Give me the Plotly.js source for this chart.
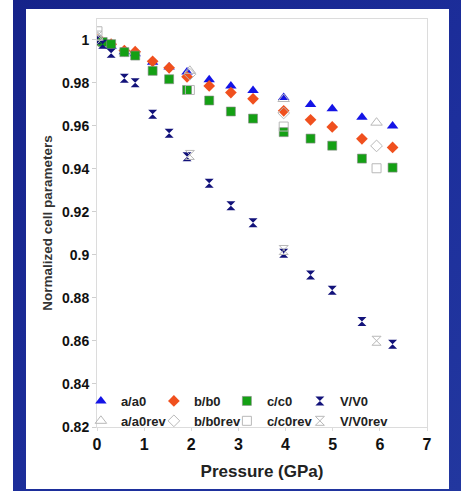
<!DOCTYPE html>
<html>
<head>
<meta charset="utf-8">
<script src="https://cdn.plot.ly/plotly-3.0.1.min.js"></script>
<style>
html,body{margin:0;padding:0;background:#fff;}
#wrap{position:relative;width:461px;height:491px;overflow:hidden;background:#fff;}
#frame{position:absolute;left:13px;top:0;width:448px;height:491px;background:linear-gradient(135deg,#16238a 0%,#1d2f9c 60%,#22379f 100%);}
#panel{position:absolute;left:26px;top:9px;width:423px;height:480px;background:#fff;}
#chart{position:absolute;left:0;top:0;width:461px;height:491px;}
</style>
</head>
<body>
<div id="wrap"><div id="frame"></div><div id="panel"></div><div id="chart"></div></div>
<script>
// Pressure (GPa), forward compression
var pressure = [0, 0.12, 0.3, 0.58, 0.81, 1.18, 1.53, 1.91, 2.38, 2.84, 3.31, 3.96, 4.53, 4.99, 5.62, 6.27];
var aA0 = [1.000, 0.9988, 0.9970, 0.9945, 0.9935, 0.9896, 0.9874, 0.9850, 0.9814, 0.9786, 0.9764, 0.9732, 0.9700, 0.9680, 0.9640, 0.9600];
var bB0 = [1.000, 0.9990, 0.9980, 0.9950, 0.9945, 0.9900, 0.9870, 0.9828, 0.9786, 0.9755, 0.9726, 0.9670, 0.9628, 0.9595, 0.9540, 0.9500];
var cC0 = [0.9995, 0.9990, 0.9980, 0.9943, 0.9927, 0.9856, 0.9817, 0.9767, 0.9718, 0.9667, 0.9634, 0.9571, 0.9541, 0.9508, 0.9448, 0.9406];
var vV0 = [1.000, 0.9980, 0.9938, 0.9822, 0.9801, 0.9654, 0.9566, 0.9457, 0.9333, 0.9229, 0.9150, 0.9008, 0.8907, 0.8836, 0.8690, 0.8585];
// Pressure (GPa), decompression (rev)
var pressureRev = [0.01, 1.97, 3.96, 5.93];
var aA0rev = [1.001, 0.9856, 0.9725, 0.9615];
var bB0rev = [1.001, 0.9840, 0.9660, 0.9507];
var cC0rev = [1.004, 0.9767, 0.9597, 0.9403];
var vV0rev = [1.002, 0.9465, 0.9023, 0.8601];
var yTicks = [0.82, 0.84, 0.86, 0.88, 0.9, 0.92, 0.94, 0.96, 0.98, 1];
var yTickText = ['0.82', '0.84', '0.86', '0.88', '0.9', '0.92', '0.94', '0.96', '0.98', '1'];

var font = 'Liberation Sans, Arial, sans-serif';
function fwd(name, y, sym, col, size, lc) {
  return {x: pressure, y: y, name: name, type: 'scatter', mode: 'markers',
    marker: {symbol: sym, color: col, size: size, line: {color: lc || col, width: lc ? 0.6 : 0}}};
}
function rev(name, y, sym, size) {
  return {x: pressureRev, y: y, name: name, type: 'scatter', mode: 'markers',
    marker: {symbol: sym, color: '#b8b8b8', size: size, line: {color: '#b8b8b8', width: 1}}};
}
var revTraces = [
  rev('a/a0rev', aA0rev, 'triangle-up-open', 10),
  rev('b/b0rev', bB0rev, 'diamond-open', 9),
  rev('c/c0rev', cC0rev, 'square-open', 9),
  rev('V/V0rev', vV0rev, 'hourglass-open', 9)
];
var fwdTraces = [
  fwd('a/a0', aA0, 'triangle-up', '#1414e6', 10),
  fwd('b/b0', bB0, 'diamond', '#f0501e', 9),
  fwd('c/c0', cC0, 'square', '#14a014', 9, '#8a8a8a'),
  fwd('V/V0', vV0, 'hourglass', '#12127a', 9)
];
var data = fwdTraces.concat(revTraces);

var layout = {
  width: 461, height: 491,
  margin: {l: 97, r: 34, t: 19, b: 64, autoexpand: false},
  paper_bgcolor: 'rgba(0,0,0,0)',
  plot_bgcolor: '#fff',
  showlegend: true,
  legend: {orientation: 'h', x: 0.836, y: -0.022, xanchor: 'right', yanchor: 'bottom',
    bgcolor: 'rgba(0,0,0,0)', entrywidth: 28, tracegroupgap: 0,
    font: {family: font, size: 13, color: '#222', weight: 'bold'}},
  xaxis: {range: [0, 7], dtick: 1, tick0: 0, showgrid: false, zeroline: false,
    showline: true, mirror: true, linecolor: '#dcdcdc', linewidth: 1,
    ticks: 'outside', ticklen: 3, tickcolor: '#dcdcdc',
    tickfont: {family: font, size: 16, color: '#111', weight: 'bold'},
    title: {text: 'Pressure (GPa)', standoff: 12, font: {family: font, size: 17, color: '#222', weight: 'bold'}}},
  yaxis: {range: [0.82, 1.0097], tickvals: yTicks, ticktext: yTickText, showgrid: false, zeroline: false,
    showline: true, mirror: true, linecolor: '#dcdcdc', linewidth: 1,
    ticks: 'outside', ticklen: 4, tickcolor: '#cfcfcf',
    tickfont: {family: font, size: 14, color: '#111', weight: 'bold'},
    title: {text: 'Normalized cell parameters', standoff: 6, font: {family: font, size: 13.5, color: '#333', weight: 'bold'}}}
};
Plotly.newPlot('chart', data, layout, {displayModeBar: false, staticPlot: true}).then(function (gd) {
  // let the last legend label run past the fixed entry width instead of being clipped
  var boxes = gd.querySelectorAll('g.legend g.scrollbox');
  boxes.forEach(function (b) { b.removeAttribute('clip-path'); });
});
</script>
</body>
</html>
